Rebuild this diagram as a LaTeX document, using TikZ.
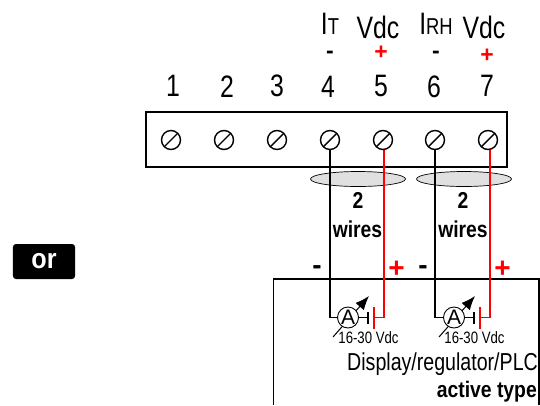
\documentclass[tikz,border=0pt]{standalone}
\usepackage{fontspec}
\setmainfont{Liberation Sans}
\usetikzlibrary{arrows.meta,shapes.geometric}

\tikzset{
  screw/.style={circle, draw, line width=1.4pt, minimum size=19pt, inner sep=0pt,
    path picture={\draw[line width=1.4pt] (path picture bounding box.south west) -- (path picture bounding box.north east);}},
  numlabel/.style={inner sep=0pt, xscale=.8, font=\fontsize{31}{31}\selectfont},
  toplabel/.style={inner sep=0pt, xscale=.8, font=\fontsize{31}{31}\selectfont},
  signlabel/.style={inner sep=0pt, font=\fontsize{23}{23}\selectfont\bfseries},
  bigsign/.style={inner sep=0pt, font=\fontsize{28}{28}\selectfont\bfseries},
  wirelabel/.style={inner sep=0pt, xscale=.84, font=\fontsize{23}{23}\selectfont\bfseries},
  meter/.style={circle, draw, fill=white, line width=.9pt, minimum size=21pt, inner sep=0pt, font=\fontsize{21}{21}\selectfont},
  bundle/.style={ellipse, draw, fill=black!12, line width=.7pt, minimum width=95pt, minimum height=15pt, inner sep=0pt},
  wire/.style={line width=1.1pt},
  redwire/.style={line width=1.1pt, red},
  voltlabel/.style={inner sep=0pt, xscale=.8, font=\fontsize{16.5}{16.5}\selectfont},
}

\begin{document}
\begin{tikzpicture}[x=1pt, y=-1pt]
  \useasboundingbox (0,0) rectangle (540,405);

  % Define nodes
  \node[draw, line width=1.2pt, minimum width=361pt, minimum height=55pt, inner sep=0pt] (strip) at (326.5,139.5) {};
  \node[screw] (screwone) at (171,140) {};
  \node[screw] (screwtwo) at (224,140) {};
  \node[screw] (screwthree) at (277,140) {};
  \node[screw] (screwfour) at (330,140) {};
  \node[screw] (screwfive) at (383,140) {};
  \node[screw] (screwsix) at (435,140) {};
  \node[screw] (screwseven) at (488,140) {};

  \node[numlabel] (one) at (173,86) {1};
  \node[numlabel] (two) at (227,87) {2};
  \node[numlabel] (three) at (277,86) {3};
  \node[numlabel] (four) at (328,87) {4};
  \node[numlabel] (five) at (381,86) {5};
  \node[numlabel] (six) at (434,87) {6};
  \node[numlabel] (seven) at (487,86) {7};

  \node[toplabel] (it) at (330,24) {I{\fontsize{23}{23}\selectfont T}};
  \node[toplabel] (vdcone) at (378,27) {Vdc};
  \node[toplabel] (irh) at (436,24) {I{\fontsize{23}{23}\selectfont RH}};
  \node[toplabel] (vdctwo) at (484,27) {Vdc};

  \node[signlabel] (minusit) at (330,55) {-};
  \node[signlabel, red] (plusone) at (381,53) {+};
  \node[signlabel] (minusirh) at (436,55) {-};
  \node[signlabel, red] (plustwo) at (487,56) {+};

  \node[bundle] (bundleone) at (358,179) {};
  \node[bundle] (bundletwo) at (464,179) {};

  \node[fill=black, rounded corners=3pt, minimum width=69pt, minimum height=35pt, inner sep=0pt,
    text=white, font=\fontsize{28}{28}\selectfont\bfseries, xscale=.9] (ortag) at (44,261.5) {or};

  \coordinate (boxbl) at (273.5,405);
  \coordinate (boxtl) at (273.5,279);
  \coordinate (boxtr) at (539,279);
  \coordinate (boxbr) at (539,405);

  \coordinate (capone) at (368,317.5);
  \coordinate (cellone) at (374,317.5);
  \coordinate (captwo) at (474,317.5);
  \coordinate (celltwo) at (480,317.5);
  \coordinate (tapone) at (384,317.5);
  \coordinate (taptwo) at (490,317.5);
  \coordinate (arrowone) at (333,337);
  \coordinate (arrowonetip) at (369,296);
  \coordinate (arrowtwo) at (439,337);
  \coordinate (arrowtwotip) at (475,296);

  % Connect the nodes
  \draw[line width=1.1pt] (boxbr) -- (boxtr) -- (boxtl) -- (boxbl);

  \draw[line width=1pt, -{Latex[length=14pt, width=11pt]}] (arrowone) -- (arrowonetip);
  \draw[line width=1pt, -{Latex[length=14pt, width=11pt]}] (arrowtwo) -- (arrowtwotip);
  \node[meter] (meterone) at (348,317.5) {A};
  \node[meter] (metertwo) at (454,317.5) {A};

  \draw[wire] (screwfour.south) |- (meterone.west);
  \draw[wire] (screwsix.south) |- (metertwo.west);
  \draw[wire] (meterone.east) -- (capone);
  \draw[wire] (metertwo.east) -- (captwo);
  \draw[wire] ([yshift=-6pt]capone) -- ([yshift=6pt]capone);
  \draw[wire] ([yshift=-6pt]captwo) -- ([yshift=6pt]captwo);
  \draw[redwire] ([yshift=-11pt]cellone) -- ([yshift=11pt]cellone);
  \draw[redwire] ([yshift=-11pt]celltwo) -- ([yshift=11pt]celltwo);
  \draw[redwire] (cellone) -- (tapone) -- (screwfive.south -| tapone);
  \draw[redwire] (celltwo) -- (taptwo) -- (screwseven.south -| taptwo);

  % Labels
  \node[wirelabel] (twoone) at (358,200) {2};
  \node[wirelabel] (wiresone) at (357.5,229) {wires};
  \node[wirelabel] (twotwo) at (463,200) {2};
  \node[wirelabel] (wirestwo) at (463,229) {wires};

  \node[bigsign] (minusone) at (317,270) {-};
  \node[bigsign, red] (redone) at (396.5,269) {+};
  \node[bigsign] (minustwo) at (423,270) {-};
  \node[bigsign, red] (redtwo) at (502.5,269) {+};

  \node[voltlabel] (voltone) at (368.5,337.5) {16-30 Vdc};
  \node[voltlabel] (volttwo) at (474.5,337.5) {16-30 Vdc};
  \node[inner sep=0pt, xscale=.8, font=\fontsize{24.5}{24.5}\selectfont, anchor=east] (display) at (538,364) {Display/regulator/PLC};
  \node[inner sep=0pt, xscale=.86, font=\fontsize{22.5}{22.5}\selectfont\bfseries, anchor=east] (active) at (537,392) {active type};
\end{tikzpicture}
\end{document}
